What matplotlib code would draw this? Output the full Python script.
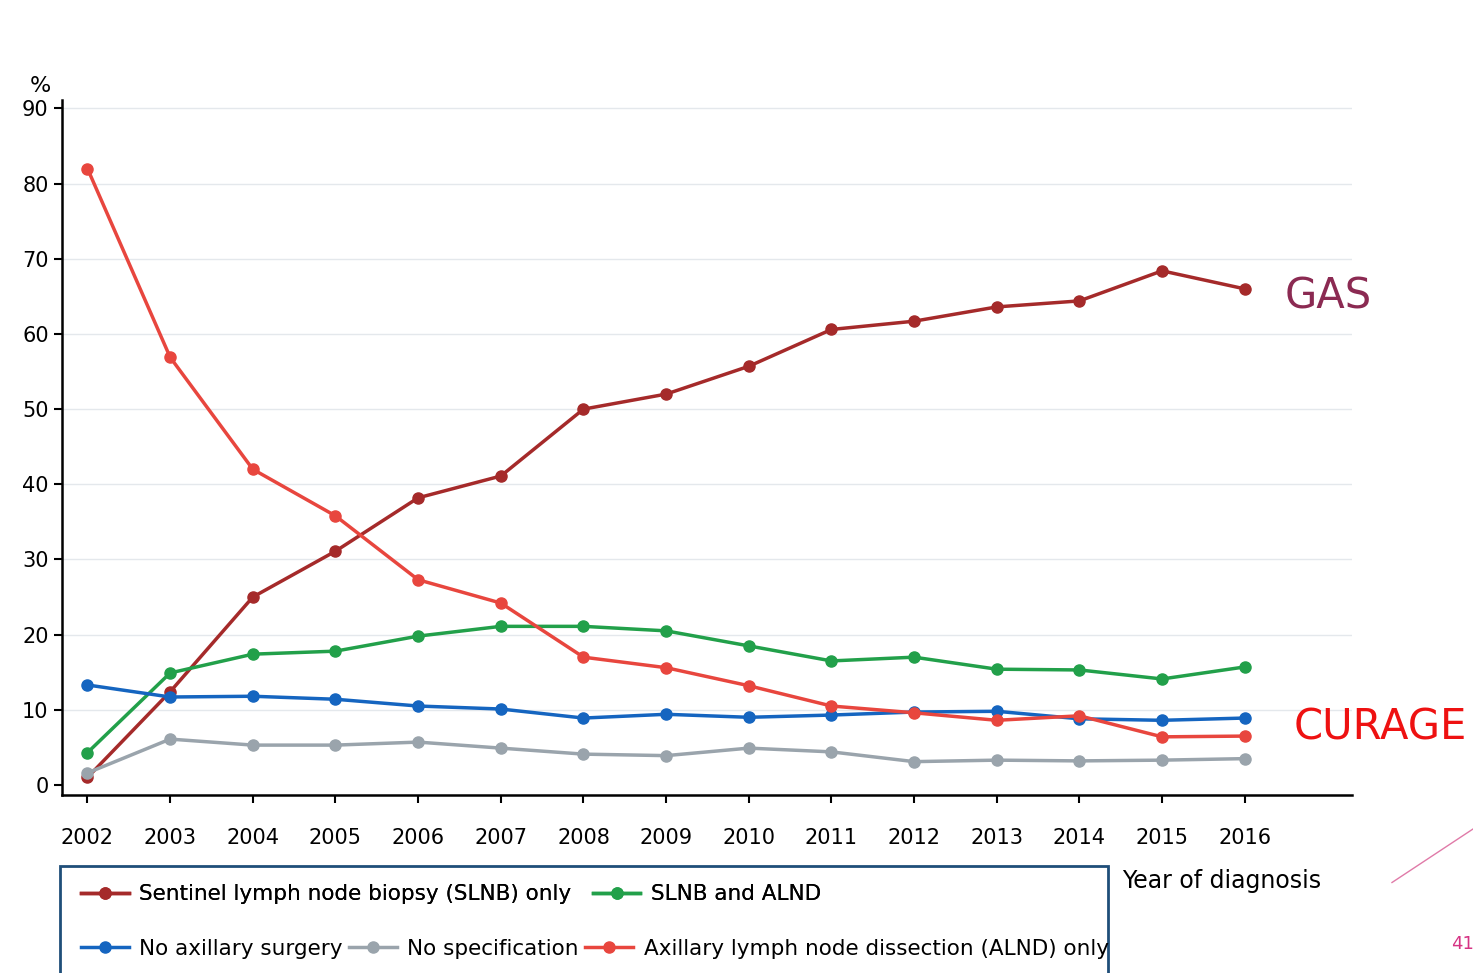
import matplotlib
matplotlib.use('Agg')
import matplotlib.pyplot as plt
from matplotlib.patches import Rectangle
from matplotlib.lines import Line2D

years = list(range(2002, 2017))
slnb_only = [1, 12.4, 25, 31.1, 38.2, 41.1, 50, 52, 55.7, 60.6, 61.7, 63.6, 64.4, 68.4, 66]
alnd_only = [82, 56.9, 42, 35.8, 27.3, 24.2, 17, 15.6, 13.2, 10.5, 9.6, 8.6, 9.2, 6.4, 6.5]
slnb_alnd = [4.3, 14.9, 17.4, 17.8, 19.8, 21.1, 21.1, 20.5, 18.5, 16.5, 17, 15.4, 15.3, 14.1, 15.7]
no_surgery = [13.3, 11.7, 11.8, 11.4, 10.5, 10.1, 8.9, 9.4, 9.0, 9.3, 9.7, 9.8, 8.8, 8.6, 8.9]
no_spec = [1.6, 6.1, 5.3, 5.3, 5.7, 4.9, 4.1, 3.9, 4.9, 4.4, 3.1, 3.3, 3.2, 3.3, 3.5]

c_slnb = '#a52a2a'
c_alnd = '#e8463e'
c_both = '#22a04a'
c_none = '#1565c0'
c_spec = '#9aa4ac'

fig = plt.figure(figsize=(14.73, 9.73), dpi=100)
ax = fig.add_axes([0.042, 0.183, 0.876, 0.714])

series = [
    (slnb_only, c_slnb, 'Sentinel lymph node biopsy (SLNB) only'),
    (slnb_alnd, c_both, 'SLNB and ALND'),
    (no_surgery, c_none, 'No axillary surgery'),
    (no_spec, c_spec, 'No specification'),
    (alnd_only, c_alnd, 'Axillary lymph node dissection (ALND) only'),
]
handles = {}
for vals, col, lab in series:
    h, = ax.plot(years, vals, color=col, lw=2.5, marker='o', ms=8, label=lab)
    handles[lab] = h

ax.set_xlim(2001.69, 2017.3)
ax.set_ylim(-1.33, 91.1)
ax.set_yticks(range(0, 91, 10))
ax.set_xticks(years)
ax.tick_params(labelsize=15, length=6, width=1.5)
ax.tick_params(axis='x', pad=18)
for y in range(10, 91, 10):
    ax.axhline(y, color='#e4e8ec', lw=1, zorder=0)
for s in ['top', 'right']:
    ax.spines[s].set_visible(False)
for s in ['left', 'bottom']:
    ax.spines[s].set_linewidth(1.8)

fig.text(0.02, 0.905, '%', fontsize=16)
fig.text(0.762, 0.087, 'Year of diagnosis', fontsize=17)
fig.text(0.872, 0.695, 'GAS', fontsize=30, color='#8b2a52', va='center')
fig.text(0.878, 0.252, 'CURAGE', fontsize=30, color='#ee1111', va='center')
fig.text(0.985, 0.025, '41', fontsize=13, color='#d63384')
fig.add_artist(Line2D([0.945, 1.0], [0.093, 0.148], color='#e07aa8', lw=1))

fig.add_artist(Rectangle((0.041, -0.01), 0.711, 0.12, transform=fig.transFigure,
                         fill=False, edgecolor='#1f4e79', lw=2))
leg1 = fig.legend([handles['Sentinel lymph node biopsy (SLNB) only'], handles['SLNB and ALND']],
                  ['Sentinel lymph node biopsy (SLNB) only', 'SLNB and ALND'],
                  ncol=2, frameon=False, fontsize=15.5, loc='center left',
                  bbox_to_anchor=(0.042, 0.081), handlelength=2.2, columnspacing=1.0,
                  handletextpad=0.5)
leg2 = fig.legend([handles['No axillary surgery'], handles['No specification'],
                   handles['Axillary lymph node dissection (ALND) only']],
                  ['No axillary surgery', 'No specification', 'Axillary lymph node dissection (ALND) only'],
                  ncol=3, frameon=False, fontsize=15.5, loc='center left',
                  bbox_to_anchor=(0.042, 0.025), handlelength=2.2, columnspacing=0.3,
                  handletextpad=0.5)
fig.add_artist(leg1)

fig.savefig('out.png', dpi=100)
